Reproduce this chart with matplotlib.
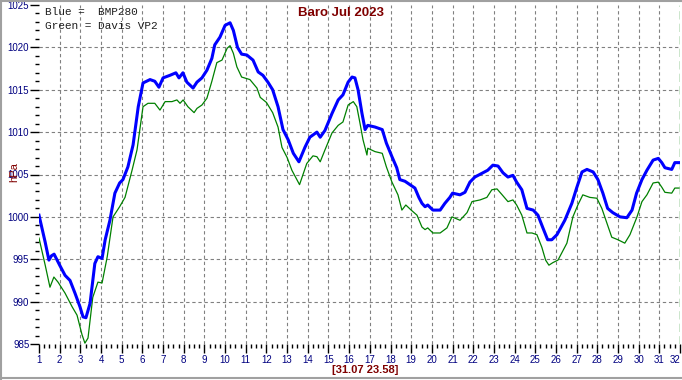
import matplotlib
matplotlib.use("Agg")
import matplotlib.pyplot as plt
from matplotlib.ticker import MultipleLocator
from matplotlib.lines import Line2D

# BMP280 (blue), day of month -> hPa
blue_day = [1.0, 1.15, 1.3, 1.48, 1.6, 1.73, 2.0, 2.26, 2.5, 2.74, 2.98, 3.13, 3.27, 3.47,
            3.7, 3.85, 4.05, 4.2, 4.43, 4.67, 4.9, 5.06, 5.3, 5.55, 5.8, 6.03, 6.37, 6.6,
            6.8, 7.0, 7.33, 7.62, 7.77, 7.96, 8.15, 8.45, 8.64, 8.88, 9.12, 9.36, 9.5,
            9.75, 10.0, 10.24, 10.4, 10.6, 10.8, 11.05, 11.35, 11.6, 11.83, 12.07, 12.3,
            12.56, 12.8, 13.05, 13.3, 13.57, 13.86, 14.1, 14.44, 14.6, 14.83, 15.17,
            15.47, 15.7, 15.95, 16.14, 16.28, 16.43, 16.62, 16.77, 16.9, 17.25, 17.6,
            17.8, 18.07, 18.3, 18.45, 18.7, 18.94, 19.18, 19.37, 19.52, 19.67, 19.8,
            20.05, 20.4, 20.63, 20.87, 21.0, 21.36, 21.6, 21.84, 22.08, 22.47, 22.7,
            22.95, 23.2, 23.44, 23.68, 23.92, 24.1, 24.35, 24.6, 24.9, 25.13, 25.37,
            25.6, 25.8, 26.05, 26.43, 26.77, 27.0, 27.26, 27.5, 27.8, 28.03, 28.27,
            28.5, 28.75, 29.1, 29.43, 29.68, 29.9, 30.16, 30.4, 30.7, 30.95, 31.12,
            31.27, 31.6, 31.75, 31.95]
blue_hpa = [1000.2, 998.6, 997.0, 994.9, 995.4, 995.6, 994.3, 993.1, 992.5, 991.0, 989.4,
            988.2, 988.1, 989.8, 994.5, 995.3, 995.1, 997.3, 999.6, 1002.8, 1004.0,
            1004.4, 1005.9, 1008.5, 1013.0, 1015.8, 1016.2, 1016.0, 1015.3, 1016.4,
            1016.7, 1017.0, 1016.4, 1017.0, 1015.9, 1015.2, 1015.9, 1016.4, 1017.3,
            1018.7, 1020.3, 1021.2, 1022.6, 1022.9, 1022.0, 1020.0, 1019.2, 1019.1,
            1018.5, 1017.1, 1016.7, 1015.9, 1015.0, 1013.0, 1010.3, 1009.1, 1007.5,
            1006.5, 1008.2, 1009.4, 1010.0, 1009.4, 1010.2, 1012.2, 1013.8, 1014.4,
            1015.9, 1016.5, 1016.4, 1015.0, 1012.2, 1010.3, 1010.8, 1010.6, 1010.3,
            1008.7, 1007.1, 1005.8, 1004.4, 1004.2, 1003.8, 1003.4, 1002.3, 1001.6,
            1001.2, 1001.4, 1000.8, 1000.8, 1001.6, 1002.3, 1002.8, 1002.6, 1002.9,
            1004.1, 1004.7, 1005.2, 1005.5, 1006.1, 1006.0, 1005.2, 1004.7, 1004.9,
            1004.1, 1003.2, 1001.0, 1000.8, 1000.2, 998.7, 997.3, 997.3, 997.9, 999.6,
            1001.6, 1003.4, 1005.3, 1005.6, 1005.3, 1004.4, 1002.8, 1001.0, 1000.5,
            1000.0, 999.9, 1000.8, 1002.8, 1004.4, 1005.5, 1006.7, 1006.9, 1006.4,
            1005.8, 1005.6, 1006.4, 1006.4]

# Davis VP2 (green)
green_day = [1.0, 1.3, 1.53, 1.72, 1.92, 2.26, 2.6, 2.84, 3.08, 3.22, 3.37, 3.6, 3.85,
             4.05, 4.3, 4.58, 4.9, 5.16, 5.5, 5.74, 6.03, 6.27, 6.6, 6.85, 7.1, 7.43,
             7.67, 7.82, 7.97, 8.2, 8.5, 8.64, 8.88, 9.12, 9.36, 9.6, 9.85, 10.1, 10.24,
             10.4, 10.57, 10.8, 11.2, 11.54, 11.7, 12.0, 12.3, 12.56, 12.75, 13.0,
             13.23, 13.47, 13.6, 13.95, 14.25, 14.44, 14.6, 14.83, 15.17, 15.47, 15.7,
             15.95, 16.2, 16.37, 16.52, 16.67, 16.86, 16.9, 17.25, 17.6, 17.8, 18.07,
             18.36, 18.55, 18.74, 19.0, 19.28, 19.52, 19.67, 19.8, 20.05, 20.4, 20.73,
             20.97, 21.36, 21.7, 21.94, 22.33, 22.66, 22.9, 23.15, 23.4, 23.68, 23.92,
             24.1, 24.35, 24.6, 24.84, 25.08, 25.32, 25.5, 25.66, 25.85, 26.1, 26.53,
             26.82, 27.06, 27.3, 27.64, 27.98, 28.22, 28.46, 28.7, 29.0, 29.33, 29.58,
             29.92, 30.16, 30.4, 30.7, 30.95, 31.12, 31.27, 31.6, 31.75, 31.95]
green_hpa = [997.5, 994.3, 991.7, 992.9, 992.3, 991.0, 989.4, 988.4, 986.1, 985.1, 985.7,
             990.5, 992.3, 992.2, 995.3, 1000.0, 1001.2, 1002.3, 1005.5, 1007.9, 1013.0,
             1013.4, 1013.4, 1012.6, 1013.6, 1013.6, 1013.8, 1013.4, 1013.8, 1013.0,
             1012.3, 1012.8, 1013.2, 1014.0, 1016.0, 1018.2, 1018.5, 1019.9, 1020.2,
             1019.3, 1017.7, 1016.5, 1016.2, 1015.2, 1014.1, 1013.5, 1012.3, 1010.6,
             1008.2, 1007.0, 1005.5, 1004.4, 1003.8, 1006.3, 1007.2, 1007.1, 1006.5,
             1007.9, 1009.9, 1010.8, 1011.2, 1013.2, 1013.6, 1013.0, 1011.1, 1009.1,
             1007.3, 1008.1, 1007.7, 1007.5, 1005.9, 1004.1, 1002.6, 1000.8, 1001.4,
             1000.8, 1000.2, 998.8, 998.5, 998.7, 998.1, 998.1, 998.7, 1000.0, 999.6,
             1000.5, 1001.8, 1002.0, 1002.3, 1003.2, 1003.3, 1002.6, 1001.8, 1002.0,
             1001.4, 1000.2, 998.1, 998.1, 997.9, 996.4, 994.9, 994.3, 994.6, 994.9,
             996.9, 1000.0, 1001.4, 1002.6, 1002.3, 1002.2, 1001.0, 999.3, 997.6, 997.3,
             996.9, 997.9, 1000.0, 1001.8, 1002.6, 1004.0, 1004.1, 1003.5, 1002.9,
             1002.8, 1003.4, 1003.4]

y_ticks = list(range(985, 1026, 5))
x_ticks = list(range(1, 33))

navy = "#000080"
darkred = "#800000"

fig = plt.figure(figsize=(6.82, 3.80), dpi=100)
ax = fig.add_axes([39/682, 36/380, 641/682, 339/380])

# grid
for v in y_ticks[1:-1]:
    ax.axhline(v, color="#808080", lw=0.8, ls=(0, (3, 2.5)), zorder=1)
for d in x_ticks[1:-1]:
    ax.axvline(d, color="#808080", lw=0.8, ls=(0, (3, 2.5)), zorder=1)
ax.axvline(32, color="#008000", lw=1.0, ls=(0, (6, 3)), zorder=1)

ax.plot(green_day, green_hpa, color="#008000", lw=0.9, zorder=3)
ax.plot(blue_day, blue_hpa, color="#0000ff", lw=2.2, zorder=4)

ax.set_xlim(1, 32)
ax.set_ylim(985, 1025)
ax.set_xticks(x_ticks)
ax.set_yticks(y_ticks)
ax.xaxis.set_minor_locator(MultipleLocator(0.25))
ax.yaxis.set_minor_locator(MultipleLocator(1))
for s in ax.spines.values():
    s.set_visible(False)
ax.tick_params(which="major", length=6.5, width=1, color="black",
               labelcolor=navy, labelsize=7, pad=1.5)
ax.tick_params(which="minor", length=3.2, width=1, color="black")
ax.tick_params(axis="y", which="major", pad=0.5)
for lab in ax.get_xticklabels() + ax.get_yticklabels():
    lab.set_family("Liberation Sans")
ax.get_xticklabels()[-1].set_horizontalalignment("right")
ax.get_xticklabels()[-1].set_x(32.15)

fig.text(0.5, 1 - 13/380, "Baro Jul 2023", color=darkred, fontsize=9.5,
         fontweight="bold", family="Liberation Sans", ha="center", va="center")
fig.text(45/682, 1 - 12/380, "Blue =  BMP280", color="#202020", fontsize=8,
         family="Liberation Mono", ha="left", va="center")
fig.text(45/682, 1 - 26/380, "Green = Davis VP2", color="#202020", fontsize=8,
         family="Liberation Mono", ha="left", va="center")
fig.text(14/682, 1 - 172/380, "hPa", color=darkred, fontsize=8, rotation=90,
         family="Liberation Sans", ha="center", va="center")
fig.text(365/682, 1 - 370/380, "[31.07 23.58]", color=darkred, fontsize=8,
         fontweight="bold", family="Liberation Sans", ha="center", va="center")

# grey frame on left, top, bottom
for xs, ys in [([0.001, 0.001], [0, 1]), ([0, 1], [0.998, 0.998]), ([0, 1], [0.004, 0.004])]:
    fig.add_artist(Line2D(xs, ys, color="#a0a0a0", lw=1.5))

fig.savefig("out.png", dpi=100)
